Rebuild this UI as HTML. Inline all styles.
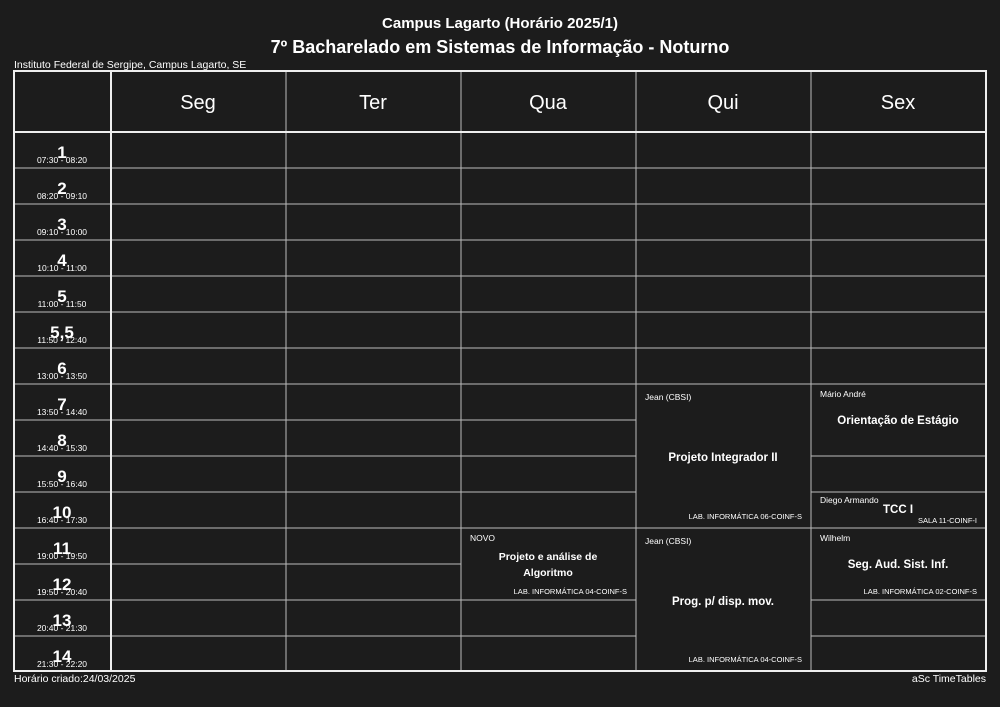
<!DOCTYPE html>
<html><head><meta charset="utf-8"><style>
html,body{margin:0;padding:0;background:#1c1c1c;}
svg{display:block;font-family:"Liberation Sans",sans-serif;}
</style></head><body>
<svg width="1000" height="707" viewBox="0 0 1000 707" xmlns="http://www.w3.org/2000/svg">
<rect width="1000" height="707" fill="#1c1c1c"/>
<g fill="#fff" text-anchor="middle" font-weight="bold">
<text x="500" y="28" font-size="15">Campus Lagarto (Horário 2025/1)</text>
<text x="500" y="53" font-size="18">7º Bacharelado em Sistemas de Informação - Noturno</text>
</g>
<text x="14" y="68" font-size="10.5" fill="#fff">Instituto Federal de Sergipe, Campus Lagarto, SE</text>
<text x="14" y="682" font-size="10.5" fill="#fff">Horário criado:24/03/2025</text>
<text x="986" y="682" font-size="10.5" fill="#fff" text-anchor="end">aSc TimeTables</text>
<g stroke="#bbb" stroke-width="1">
<!-- row lines full width for left columns -->
<path d="M14 168H811M14 204H986M14 240H986M14 276H986M14 312H986M14 348H986M14 384H986M14 420H636M14 456H636M811 456H986M14 492H636M811 492H986M14 528H986M14 564H461M14 600H636M811 600H986M14 636H636M811 636H986"/>
<path d="M811 168H986"/>
<path d="M286 70V671M461 70V671M636 70V671M811 70V671"/>
</g>
<g stroke="#eee" stroke-width="2" fill="none">
<rect x="14" y="71" width="972" height="600"/>
<path d="M14 132H986M111 70V671"/>
</g>
<g fill="#fff" font-size="20" text-anchor="middle">
<text x="198" y="109">Seg</text><text x="373" y="109">Ter</text><text x="548" y="109">Qua</text><text x="723" y="109">Qui</text><text x="898" y="109">Sex</text>
</g>
<g fill="#fff" text-anchor="middle">
<g font-weight="bold" font-size="17">
<text x="62" y="158">1</text><text x="62" y="194">2</text><text x="62" y="230">3</text><text x="62" y="266">4</text><text x="62" y="302">5</text><text x="62" y="338">5,5</text><text x="62" y="374">6</text><text x="62" y="410">7</text><text x="62" y="446">8</text><text x="62" y="482">9</text><text x="62" y="518">10</text><text x="62" y="554">11</text><text x="62" y="590">12</text><text x="62" y="626">13</text><text x="62" y="662">14</text>
</g>
<g font-size="8.5">
<text x="62" y="163">07:30 - 08:20</text><text x="62" y="199">08:20 - 09:10</text><text x="62" y="235">09:10 - 10:00</text><text x="62" y="271">10:10 - 11:00</text><text x="62" y="307">11:00 - 11:50</text><text x="62" y="343">11:50 - 12:40</text><text x="62" y="379">13:00 - 13:50</text><text x="62" y="415">13:50 - 14:40</text><text x="62" y="451">14:40 - 15:30</text><text x="62" y="487">15:50 - 16:40</text><text x="62" y="523">16:40 - 17:30</text><text x="62" y="559">19:00 - 19:50</text><text x="62" y="595">19:50 - 20:40</text><text x="62" y="631">20:40 - 21:30</text><text x="62" y="667">21:30 - 22:20</text>
</g>
</g>
<g fill="#fff" font-size="8.5">
<text x="645" y="400">Jean (CBSI)</text>
<text x="645" y="544">Jean (CBSI)</text>
<text x="820" y="397">Mário André</text>
<text x="820" y="503">Diego Armando</text>
<text x="820" y="541">Wilhelm</text>
<text x="470" y="541">NOVO</text>
<g text-anchor="end" font-size="7.5">
<text x="802" y="519">LAB. INFORMÁTICA 06-COINF-S</text>
<text x="802" y="662">LAB. INFORMÁTICA 04-COINF-S</text>
<text x="977" y="523">SALA 11-COINF-I</text>
<text x="977" y="594">LAB. INFORMÁTICA 02-COINF-S</text>
<text x="627" y="594">LAB. INFORMÁTICA 04-COINF-S</text>
</g>
<g font-weight="bold" text-anchor="middle" font-size="11.5">
<text x="723" y="461">Projeto Integrador II</text>
<text x="723" y="605">Prog. p/ disp. mov.</text>
<text x="898" y="424">Orientação de Estágio</text>
<text x="898" y="513">TCC I</text>
<text x="898" y="568">Seg. Aud. Sist. Inf.</text>
<text x="548" y="560" font-size="10.5">Projeto e análise de</text>
<text x="548" y="576" font-size="10.5">Algoritmo</text>
</g>
</g>
</svg>
</body></html>
